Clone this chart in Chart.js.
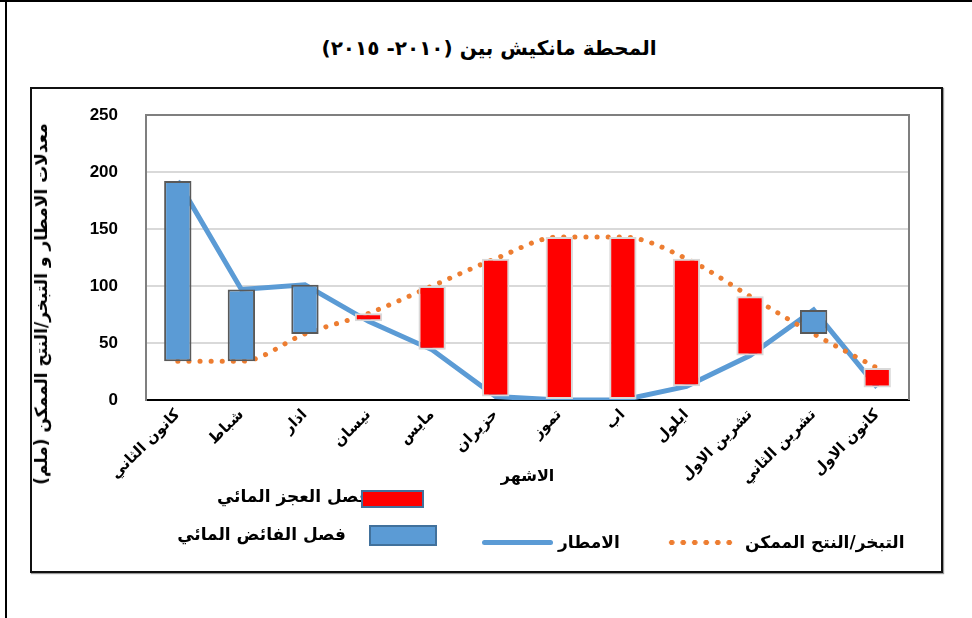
<!DOCTYPE html>
<html lang="ar">
<head>
  <meta charset="UTF-8">
  <title>المحطة مانكيش</title>
  <script src="https://cdn.jsdelivr.net/npm/chart.js"></script>
  <style>
    body {
      margin: 0;
      width: 972px;
      height: 618px;
      background: #fff;
      position: relative;
      overflow: hidden;
      font-family: 'DejaVu Sans', sans-serif;
    }
    /* حدود الصفحة */
    .page-top { position: absolute; left: 0; top: 0; width: 972px; height: 2px; background: #000; }
    .page-left { position: absolute; left: 5px; top: 0; width: 2px; height: 618px; background: #000; }
    .frame {
      position: absolute;
      left: 30px; top: 87px;
      width: 909px; height: 482px;
      border: 2px solid #111;
      box-shadow: 1px 1px 1px #999;
    }
    .title {
      position: absolute;
      left: 0; width: 978px; top: 36px;
      text-align: center;
      font-weight: bold;
      font-size: 20px;
      direction: rtl;
    }
    .y-title {
      position: absolute;
      left: 41px; top: 304px;
      transform: translate(-50%, -50%) rotate(-90deg);
      font-weight: bold;
      font-size: 17px;
      direction: rtl;
      white-space: nowrap;
    }
    canvas { position: absolute; left: 0; top: 0; direction: rtl; }
    .lg-text {
      position: absolute;
      font-weight: bold;
      font-size: 17px;
      direction: rtl;
      white-space: nowrap;
      line-height: 20px;
    }
    .lg-box { position: absolute; border: 2px solid #41719c; box-sizing: border-box; }
  </style>
</head>
<body>
  <div class="page-top"></div>
  <div class="page-left"></div>
  <div class="frame"></div>
  <div class="title">المحطة مانكيش بين (٢٠١٠- ٢٠١٥)</div>
  <canvas id="chart" width="972" height="618"></canvas>
  <div class="y-title">معدلات الامطار و التبخر/النتح الممكن (ملم)</div>

  <!-- مفتاح الرسم -->
  <div class="lg-text" style="right:602px; top:486px;">فصل العجز المائي</div>
  <div class="lg-box" style="left:361px; top:490px; width:63px; height:18px; background:#ff0000;"></div>
  <div class="lg-box" style="left:369px; top:525px; width:68px; height:21px; background:#5b9bd5;"></div>
  <div class="lg-text" style="right:626px; top:524px;">فصل الفائض المائي</div>
  <div style="position:absolute; left:482px; top:540px; width:71px; height:5px; border-radius:3px; background:#5b9bd5;"></div>
  <div class="lg-text" style="left:558px; top:532px;">الامطار</div>
  <div style="position:absolute; left:666px; top:539px; width:70px; height:7px; background: radial-gradient(circle, #ed7d31 2.4px, transparent 3px) 0 0 / 11.5px 7px repeat-x;"></div>
  <div class="lg-text" style="left:745px; top:532px;">التبخر/النتح الممكن</div>

  <script>
    const months = ['كانون الثاني', 'شباط', 'اذار', 'نيسان', 'مايس', 'حزيران',
                    'تموز', 'اب', 'ايلول', 'تشرين الاول', 'تشرين الثاني', 'كانون الاول'];
    const rainfall = [192, 97, 101, 69, 44, 3, 0, 0, 12, 39, 79, 11];
    const evapotranspiration = [34, 34, 58, 76, 100, 124, 143, 143, 124, 91, 58, 28];
    const yTicks = [0, 50, 100, 150, 200, 250];

    // فصل الفائض (الامطار اكبر) وفصل العجز (التبخر اكبر)
    const surplus = months.map((m, i) =>
      rainfall[i] > evapotranspiration[i] ? [evapotranspiration[i], rainfall[i]] : null);
    const deficit = months.map((m, i) =>
      rainfall[i] < evapotranspiration[i] ? [rainfall[i], evapotranspiration[i]] : null);

    const plotBorder = {
      id: 'plotBorder',
      beforeDatasetsDraw(chart) {
        const { ctx, chartArea: a } = chart;
        ctx.save();
        ctx.strokeStyle = '#7f7f7f';
        ctx.lineWidth = 2;
        ctx.beginPath();
        ctx.moveTo(a.left, a.top);
        ctx.lineTo(a.right, a.top);
        ctx.lineTo(a.right, a.bottom);
        ctx.stroke();
        ctx.restore();
      }
    };

    new Chart(document.getElementById('chart'), {
      data: {
        labels: months,
        datasets: [
          {
            type: 'bar',
            label: 'فصل العجز المائي',
            data: deficit,
            backgroundColor: '#ff0000',
            borderColor: '#d9d9d9',
            borderWidth: 2,
            borderSkipped: false,
            barPercentage: 0.43,
            categoryPercentage: 1,
            order: 0
          },
          {
            type: 'bar',
            label: 'فصل الفائض المائي',
            data: surplus,
            backgroundColor: '#5b9bd5',
            borderColor: '#595959',
            borderWidth: 2,
            borderSkipped: false,
            barPercentage: 0.43,
            categoryPercentage: 1,
            order: 0
          },
          {
            type: 'line',
            label: 'الامطار',
            data: rainfall,
            borderColor: '#5b9bd5',
            borderWidth: 5,
            pointRadius: 0,
            tension: 0,
            order: 2
          },
          {
            type: 'line',
            label: 'التبخر/النتح الممكن',
            data: evapotranspiration,
            borderColor: '#ed7d31',
            borderWidth: 5,
            borderDash: [0.1, 11],
            borderCapStyle: 'round',
            pointRadius: 0,
            cubicInterpolationMode: 'monotone',
            order: 1
          }
        ]
      },
      options: {
        responsive: false,
        animation: false,
        layout: { padding: { top: 115, left: 26, right: 63, bottom: 128 } },
        plugins: {
          legend: { display: false },
          tooltip: { enabled: false }
        },
        scales: {
          x: {
            stacked: true,
            grid: { display: true, drawOnChartArea: false, drawTicks: false },
            border: { display: true, color: '#000', width: 2 },
            ticks: {
              color: '#000',
              font: { family: 'DejaVu Sans', size: 15, weight: 'bold' },
              minRotation: 45,
              maxRotation: 45,
              autoSkip: false,
              padding: 6
            },
            title: {
              display: true,
              text: 'الاشهر',
              color: '#000',
              font: { family: 'DejaVu Sans', size: 16, weight: 'bold' },
              padding: { top: 0, bottom: 4 }
            },
            afterFit(scale) { scale.height = 90; }
          },
          y: {
            min: 0,
            max: 250,
            afterBuildTicks(scale) { scale.ticks = yTicks.map(v => ({ value: v })); },
            grid: { color: '#d9d9d9', lineWidth: 2, drawTicks: false },
            border: { display: true, color: '#7f7f7f', width: 2 },
            ticks: {
              color: '#000',
              font: { family: 'Liberation Sans', size: 17, weight: 'bold' },
              padding: 28
            },
            afterFit(scale) { scale.width = 120; }
          }
        }
      },
      plugins: [plotBorder]
    });
  </script>
</body>
</html>
